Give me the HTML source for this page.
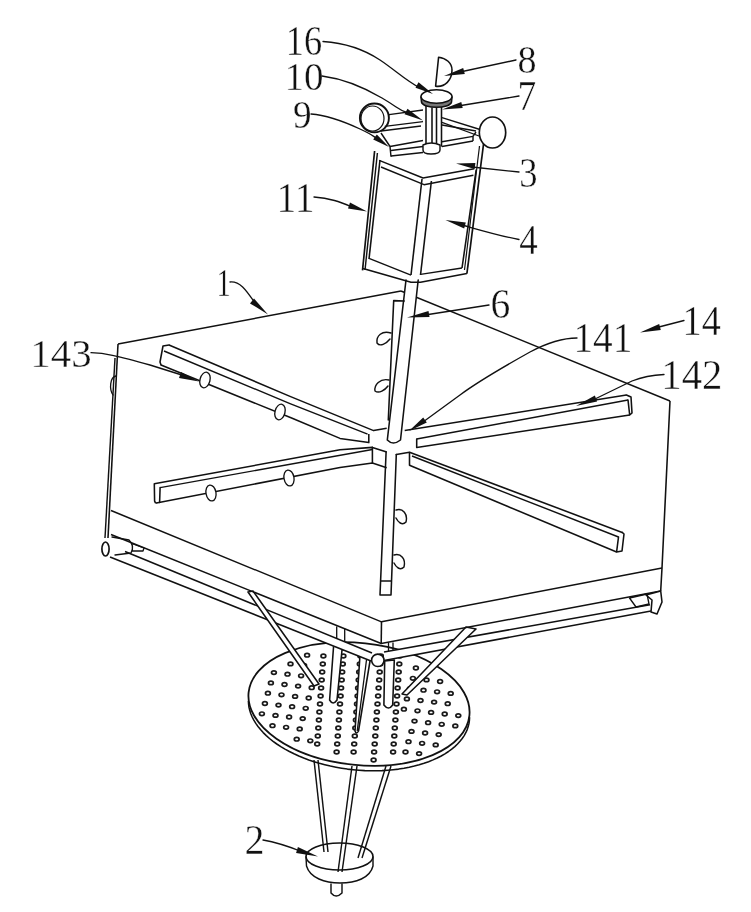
<!DOCTYPE html>
<html><head><meta charset="utf-8"><style>
html,body{margin:0;padding:0;background:#fff;}
svg{display:block;filter:grayscale(100%);}
</style></head><body>
<svg width="751" height="912" viewBox="0 0 751 912">
<rect width="751" height="912" fill="#fff"/>
<polyline points="314,760 324,852" fill="none" stroke="#111" stroke-width="1.44" stroke-linejoin="round"/>
<polyline points="318,760 328,852" fill="none" stroke="#111" stroke-width="1.44" stroke-linejoin="round"/>
<polyline points="352,766 338,872" fill="none" stroke="#111" stroke-width="1.44" stroke-linejoin="round"/>
<polyline points="357,766 342,872" fill="none" stroke="#111" stroke-width="1.44" stroke-linejoin="round"/>
<polyline points="386,766 358,858" fill="none" stroke="#111" stroke-width="1.44" stroke-linejoin="round"/>
<polyline points="391,766 362,858" fill="none" stroke="#111" stroke-width="1.44" stroke-linejoin="round"/>
<ellipse cx="339.5" cy="856.5" rx="33.5" ry="13.5" transform="rotate(0 339.5 856.5)" fill="none" stroke="#111" stroke-width="1.56"/>
<path d="M306,857 L306.5,866 C310,878 325,883 340,883 C356,883 370,878 373,866 L373,857" fill="none" stroke="#111" stroke-width="1.44" stroke-linejoin="round" stroke-linecap="round"/>
<path d="M331,884 L331,893 Q336,899 342,893 L342,884" fill="none" stroke="#111" stroke-width="1.44" stroke-linejoin="round" stroke-linecap="round"/>
<ellipse cx="359" cy="704" rx="111" ry="61" transform="rotate(6 359 704)" fill="#fff" stroke="#111" stroke-width="1.80"/>
<polyline points="248.4,700.9 248.6,704.1 249.0,707.4 249.8,710.6 250.8,713.8 252.2,717.0 253.8,720.2 255.8,723.4 258.0,726.5 260.5,729.6 263.2,732.6 266.3,735.6 269.5,738.5 273.1,741.3 276.8,744.0 280.8,746.6 285.0,749.1 289.4,751.5 294.0,753.8 298.8,756.0 303.7,758.0 308.8,759.9 314.0,761.7 319.4,763.3 324.8,764.7 330.4,766.1 336.0,767.2 341.7,768.2 347.4,769.1 353.2,769.7 359.0,770.2 364.8,770.6 370.6,770.7 376.3,770.7 382.0,770.6 387.6,770.2 393.2,769.7 398.6,769.1 404.0,768.2 409.2,767.2 414.3,766.1 419.2,764.8 424.0,763.3 428.6,761.7 433.0,759.9 437.2,758.0 441.2,756.0 444.9,753.8 448.5,751.5 451.7,749.1 454.8,746.6 457.5,744.0 460.0,741.3 462.2,738.5 464.2,735.6 465.8,732.7 467.2,729.6 468.2,726.6 469.0,723.4 469.4,720.3 469.6,717.1" fill="none" stroke="#111" stroke-width="1.56" stroke-linejoin="round"/>
<ellipse cx="273.9" cy="672.6" rx="2.4" ry="1.8" transform="rotate(0 273.9 672.6)" fill="none" stroke="#1a1a1a" stroke-width="1.74"/>
<ellipse cx="270.9" cy="682.9" rx="2.4" ry="1.8" transform="rotate(0 270.9 682.9)" fill="none" stroke="#1a1a1a" stroke-width="1.74"/>
<ellipse cx="267.9" cy="693.2" rx="2.4" ry="1.8" transform="rotate(0 267.9 693.2)" fill="none" stroke="#1a1a1a" stroke-width="1.74"/>
<ellipse cx="264.9" cy="703.5" rx="2.4" ry="1.8" transform="rotate(0 264.9 703.5)" fill="none" stroke="#1a1a1a" stroke-width="1.74"/>
<ellipse cx="261.9" cy="713.8" rx="2.4" ry="1.8" transform="rotate(0 261.9 713.8)" fill="none" stroke="#1a1a1a" stroke-width="1.74"/>
<ellipse cx="290.5" cy="663.9" rx="2.4" ry="1.8" transform="rotate(0 290.5 663.9)" fill="none" stroke="#1a1a1a" stroke-width="1.74"/>
<ellipse cx="287.5" cy="674.2" rx="2.4" ry="1.8" transform="rotate(0 287.5 674.2)" fill="none" stroke="#1a1a1a" stroke-width="1.74"/>
<ellipse cx="284.5" cy="684.5" rx="2.4" ry="1.8" transform="rotate(0 284.5 684.5)" fill="none" stroke="#1a1a1a" stroke-width="1.74"/>
<ellipse cx="281.5" cy="694.8" rx="2.4" ry="1.8" transform="rotate(0 281.5 694.8)" fill="none" stroke="#1a1a1a" stroke-width="1.74"/>
<ellipse cx="278.5" cy="705.1" rx="2.4" ry="1.8" transform="rotate(0 278.5 705.1)" fill="none" stroke="#1a1a1a" stroke-width="1.74"/>
<ellipse cx="275.5" cy="715.4" rx="2.4" ry="1.8" transform="rotate(0 275.5 715.4)" fill="none" stroke="#1a1a1a" stroke-width="1.74"/>
<ellipse cx="272.5" cy="725.7" rx="2.4" ry="1.8" transform="rotate(0 272.5 725.7)" fill="none" stroke="#1a1a1a" stroke-width="1.74"/>
<ellipse cx="307.1" cy="655.2" rx="2.4" ry="1.8" transform="rotate(0 307.1 655.2)" fill="none" stroke="#1a1a1a" stroke-width="1.74"/>
<ellipse cx="304.1" cy="665.5" rx="2.4" ry="1.8" transform="rotate(0 304.1 665.5)" fill="none" stroke="#1a1a1a" stroke-width="1.74"/>
<ellipse cx="301.1" cy="675.8" rx="2.4" ry="1.8" transform="rotate(0 301.1 675.8)" fill="none" stroke="#1a1a1a" stroke-width="1.74"/>
<ellipse cx="298.1" cy="686.1" rx="2.4" ry="1.8" transform="rotate(0 298.1 686.1)" fill="none" stroke="#1a1a1a" stroke-width="1.74"/>
<ellipse cx="295.1" cy="696.4" rx="2.4" ry="1.8" transform="rotate(0 295.1 696.4)" fill="none" stroke="#1a1a1a" stroke-width="1.74"/>
<ellipse cx="292.1" cy="706.7" rx="2.4" ry="1.8" transform="rotate(0 292.1 706.7)" fill="none" stroke="#1a1a1a" stroke-width="1.74"/>
<ellipse cx="289.1" cy="717.0" rx="2.4" ry="1.8" transform="rotate(0 289.1 717.0)" fill="none" stroke="#1a1a1a" stroke-width="1.74"/>
<ellipse cx="286.1" cy="727.3" rx="2.4" ry="1.8" transform="rotate(0 286.1 727.3)" fill="none" stroke="#1a1a1a" stroke-width="1.74"/>
<ellipse cx="311.7" cy="687.7" rx="2.4" ry="1.8" transform="rotate(0 311.7 687.7)" fill="none" stroke="#1a1a1a" stroke-width="1.74"/>
<ellipse cx="308.7" cy="698.0" rx="2.4" ry="1.8" transform="rotate(0 308.7 698.0)" fill="none" stroke="#1a1a1a" stroke-width="1.74"/>
<ellipse cx="305.7" cy="708.3" rx="2.4" ry="1.8" transform="rotate(0 305.7 708.3)" fill="none" stroke="#1a1a1a" stroke-width="1.74"/>
<ellipse cx="302.7" cy="718.6" rx="2.4" ry="1.8" transform="rotate(0 302.7 718.6)" fill="none" stroke="#1a1a1a" stroke-width="1.74"/>
<ellipse cx="299.7" cy="728.9" rx="2.4" ry="1.8" transform="rotate(0 299.7 728.9)" fill="none" stroke="#1a1a1a" stroke-width="1.74"/>
<ellipse cx="296.7" cy="739.2" rx="2.4" ry="1.8" transform="rotate(0 296.7 739.2)" fill="none" stroke="#1a1a1a" stroke-width="1.74"/>
<ellipse cx="310.3" cy="740.8" rx="2.4" ry="1.8" transform="rotate(0 310.3 740.8)" fill="none" stroke="#1a1a1a" stroke-width="1.74"/>
<ellipse cx="415.9" cy="668.0" rx="2.4" ry="1.8" transform="rotate(0 415.9 668.0)" fill="none" stroke="#1a1a1a" stroke-width="1.74"/>
<ellipse cx="412.9" cy="678.3" rx="2.4" ry="1.8" transform="rotate(0 412.9 678.3)" fill="none" stroke="#1a1a1a" stroke-width="1.74"/>
<ellipse cx="409.9" cy="688.6" rx="2.4" ry="1.8" transform="rotate(0 409.9 688.6)" fill="none" stroke="#1a1a1a" stroke-width="1.74"/>
<ellipse cx="406.9" cy="698.9" rx="2.4" ry="1.8" transform="rotate(0 406.9 698.9)" fill="none" stroke="#1a1a1a" stroke-width="1.74"/>
<ellipse cx="403.9" cy="709.2" rx="2.4" ry="1.8" transform="rotate(0 403.9 709.2)" fill="none" stroke="#1a1a1a" stroke-width="1.74"/>
<ellipse cx="429.5" cy="669.6" rx="2.4" ry="1.8" transform="rotate(0 429.5 669.6)" fill="none" stroke="#1a1a1a" stroke-width="1.74"/>
<ellipse cx="426.5" cy="679.9" rx="2.4" ry="1.8" transform="rotate(0 426.5 679.9)" fill="none" stroke="#1a1a1a" stroke-width="1.74"/>
<ellipse cx="423.5" cy="690.2" rx="2.4" ry="1.8" transform="rotate(0 423.5 690.2)" fill="none" stroke="#1a1a1a" stroke-width="1.74"/>
<ellipse cx="420.5" cy="700.5" rx="2.4" ry="1.8" transform="rotate(0 420.5 700.5)" fill="none" stroke="#1a1a1a" stroke-width="1.74"/>
<ellipse cx="417.5" cy="710.8" rx="2.4" ry="1.8" transform="rotate(0 417.5 710.8)" fill="none" stroke="#1a1a1a" stroke-width="1.74"/>
<ellipse cx="414.5" cy="721.1" rx="2.4" ry="1.8" transform="rotate(0 414.5 721.1)" fill="none" stroke="#1a1a1a" stroke-width="1.74"/>
<ellipse cx="411.5" cy="731.4" rx="2.4" ry="1.8" transform="rotate(0 411.5 731.4)" fill="none" stroke="#1a1a1a" stroke-width="1.74"/>
<ellipse cx="408.5" cy="741.7" rx="2.4" ry="1.8" transform="rotate(0 408.5 741.7)" fill="none" stroke="#1a1a1a" stroke-width="1.74"/>
<ellipse cx="405.5" cy="752.0" rx="2.4" ry="1.8" transform="rotate(0 405.5 752.0)" fill="none" stroke="#1a1a1a" stroke-width="1.74"/>
<ellipse cx="440.1" cy="681.5" rx="2.4" ry="1.8" transform="rotate(0 440.1 681.5)" fill="none" stroke="#1a1a1a" stroke-width="1.74"/>
<ellipse cx="437.1" cy="691.8" rx="2.4" ry="1.8" transform="rotate(0 437.1 691.8)" fill="none" stroke="#1a1a1a" stroke-width="1.74"/>
<ellipse cx="434.1" cy="702.1" rx="2.4" ry="1.8" transform="rotate(0 434.1 702.1)" fill="none" stroke="#1a1a1a" stroke-width="1.74"/>
<ellipse cx="431.1" cy="712.4" rx="2.4" ry="1.8" transform="rotate(0 431.1 712.4)" fill="none" stroke="#1a1a1a" stroke-width="1.74"/>
<ellipse cx="428.1" cy="722.7" rx="2.4" ry="1.8" transform="rotate(0 428.1 722.7)" fill="none" stroke="#1a1a1a" stroke-width="1.74"/>
<ellipse cx="425.1" cy="733.0" rx="2.4" ry="1.8" transform="rotate(0 425.1 733.0)" fill="none" stroke="#1a1a1a" stroke-width="1.74"/>
<ellipse cx="422.1" cy="743.3" rx="2.4" ry="1.8" transform="rotate(0 422.1 743.3)" fill="none" stroke="#1a1a1a" stroke-width="1.74"/>
<ellipse cx="419.1" cy="753.6" rx="2.4" ry="1.8" transform="rotate(0 419.1 753.6)" fill="none" stroke="#1a1a1a" stroke-width="1.74"/>
<ellipse cx="450.7" cy="693.4" rx="2.4" ry="1.8" transform="rotate(0 450.7 693.4)" fill="none" stroke="#1a1a1a" stroke-width="1.74"/>
<ellipse cx="447.7" cy="703.7" rx="2.4" ry="1.8" transform="rotate(0 447.7 703.7)" fill="none" stroke="#1a1a1a" stroke-width="1.74"/>
<ellipse cx="444.7" cy="714.0" rx="2.4" ry="1.8" transform="rotate(0 444.7 714.0)" fill="none" stroke="#1a1a1a" stroke-width="1.74"/>
<ellipse cx="441.7" cy="724.3" rx="2.4" ry="1.8" transform="rotate(0 441.7 724.3)" fill="none" stroke="#1a1a1a" stroke-width="1.74"/>
<ellipse cx="438.7" cy="734.6" rx="2.4" ry="1.8" transform="rotate(0 438.7 734.6)" fill="none" stroke="#1a1a1a" stroke-width="1.74"/>
<ellipse cx="435.7" cy="744.9" rx="2.4" ry="1.8" transform="rotate(0 435.7 744.9)" fill="none" stroke="#1a1a1a" stroke-width="1.74"/>
<ellipse cx="458.3" cy="715.6" rx="2.4" ry="1.8" transform="rotate(0 458.3 715.6)" fill="none" stroke="#1a1a1a" stroke-width="1.74"/>
<ellipse cx="455.3" cy="725.9" rx="2.4" ry="1.8" transform="rotate(0 455.3 725.9)" fill="none" stroke="#1a1a1a" stroke-width="1.74"/>
<ellipse cx="323.4" cy="656" rx="2.4" ry="1.8" transform="rotate(0 323.4 656)" fill="none" stroke="#1a1a1a" stroke-width="1.74"/>
<ellipse cx="322.8" cy="664" rx="2.4" ry="1.8" transform="rotate(0 322.8 664)" fill="none" stroke="#1a1a1a" stroke-width="1.74"/>
<ellipse cx="322.2" cy="672" rx="2.4" ry="1.8" transform="rotate(0 322.2 672)" fill="none" stroke="#1a1a1a" stroke-width="1.74"/>
<ellipse cx="321.7" cy="680" rx="2.4" ry="1.8" transform="rotate(0 321.7 680)" fill="none" stroke="#1a1a1a" stroke-width="1.74"/>
<ellipse cx="321.1" cy="688" rx="2.4" ry="1.8" transform="rotate(0 321.1 688)" fill="none" stroke="#1a1a1a" stroke-width="1.74"/>
<ellipse cx="320.6" cy="696" rx="2.4" ry="1.8" transform="rotate(0 320.6 696)" fill="none" stroke="#1a1a1a" stroke-width="1.74"/>
<ellipse cx="320.0" cy="704" rx="2.4" ry="1.8" transform="rotate(0 320.0 704)" fill="none" stroke="#1a1a1a" stroke-width="1.74"/>
<ellipse cx="319.4" cy="712" rx="2.4" ry="1.8" transform="rotate(0 319.4 712)" fill="none" stroke="#1a1a1a" stroke-width="1.74"/>
<ellipse cx="318.9" cy="720" rx="2.4" ry="1.8" transform="rotate(0 318.9 720)" fill="none" stroke="#1a1a1a" stroke-width="1.74"/>
<ellipse cx="318.3" cy="728" rx="2.4" ry="1.8" transform="rotate(0 318.3 728)" fill="none" stroke="#1a1a1a" stroke-width="1.74"/>
<ellipse cx="317.8" cy="736" rx="2.4" ry="1.8" transform="rotate(0 317.8 736)" fill="none" stroke="#1a1a1a" stroke-width="1.74"/>
<ellipse cx="317.2" cy="744" rx="2.4" ry="1.8" transform="rotate(0 317.2 744)" fill="none" stroke="#1a1a1a" stroke-width="1.74"/>
<ellipse cx="343.9" cy="648" rx="2.4" ry="1.8" transform="rotate(0 343.9 648)" fill="none" stroke="#1a1a1a" stroke-width="1.74"/>
<ellipse cx="343.4" cy="656" rx="2.4" ry="1.8" transform="rotate(0 343.4 656)" fill="none" stroke="#1a1a1a" stroke-width="1.74"/>
<ellipse cx="342.8" cy="664" rx="2.4" ry="1.8" transform="rotate(0 342.8 664)" fill="none" stroke="#1a1a1a" stroke-width="1.74"/>
<ellipse cx="342.2" cy="672" rx="2.4" ry="1.8" transform="rotate(0 342.2 672)" fill="none" stroke="#1a1a1a" stroke-width="1.74"/>
<ellipse cx="341.7" cy="680" rx="2.4" ry="1.8" transform="rotate(0 341.7 680)" fill="none" stroke="#1a1a1a" stroke-width="1.74"/>
<ellipse cx="341.1" cy="688" rx="2.4" ry="1.8" transform="rotate(0 341.1 688)" fill="none" stroke="#1a1a1a" stroke-width="1.74"/>
<ellipse cx="340.6" cy="696" rx="2.4" ry="1.8" transform="rotate(0 340.6 696)" fill="none" stroke="#1a1a1a" stroke-width="1.74"/>
<ellipse cx="340.0" cy="704" rx="2.4" ry="1.8" transform="rotate(0 340.0 704)" fill="none" stroke="#1a1a1a" stroke-width="1.74"/>
<ellipse cx="339.4" cy="712" rx="2.4" ry="1.8" transform="rotate(0 339.4 712)" fill="none" stroke="#1a1a1a" stroke-width="1.74"/>
<ellipse cx="338.9" cy="720" rx="2.4" ry="1.8" transform="rotate(0 338.9 720)" fill="none" stroke="#1a1a1a" stroke-width="1.74"/>
<ellipse cx="338.3" cy="728" rx="2.4" ry="1.8" transform="rotate(0 338.3 728)" fill="none" stroke="#1a1a1a" stroke-width="1.74"/>
<ellipse cx="337.8" cy="736" rx="2.4" ry="1.8" transform="rotate(0 337.8 736)" fill="none" stroke="#1a1a1a" stroke-width="1.74"/>
<ellipse cx="337.2" cy="744" rx="2.4" ry="1.8" transform="rotate(0 337.2 744)" fill="none" stroke="#1a1a1a" stroke-width="1.74"/>
<ellipse cx="336.6" cy="752" rx="2.4" ry="1.8" transform="rotate(0 336.6 752)" fill="none" stroke="#1a1a1a" stroke-width="1.74"/>
<ellipse cx="360.4" cy="656" rx="2.4" ry="1.8" transform="rotate(0 360.4 656)" fill="none" stroke="#1a1a1a" stroke-width="1.74"/>
<ellipse cx="359.8" cy="664" rx="2.4" ry="1.8" transform="rotate(0 359.8 664)" fill="none" stroke="#1a1a1a" stroke-width="1.74"/>
<ellipse cx="359.2" cy="672" rx="2.4" ry="1.8" transform="rotate(0 359.2 672)" fill="none" stroke="#1a1a1a" stroke-width="1.74"/>
<ellipse cx="358.7" cy="680" rx="2.4" ry="1.8" transform="rotate(0 358.7 680)" fill="none" stroke="#1a1a1a" stroke-width="1.74"/>
<ellipse cx="358.1" cy="688" rx="2.4" ry="1.8" transform="rotate(0 358.1 688)" fill="none" stroke="#1a1a1a" stroke-width="1.74"/>
<ellipse cx="357.6" cy="696" rx="2.4" ry="1.8" transform="rotate(0 357.6 696)" fill="none" stroke="#1a1a1a" stroke-width="1.74"/>
<ellipse cx="357.0" cy="704" rx="2.4" ry="1.8" transform="rotate(0 357.0 704)" fill="none" stroke="#1a1a1a" stroke-width="1.74"/>
<ellipse cx="356.4" cy="712" rx="2.4" ry="1.8" transform="rotate(0 356.4 712)" fill="none" stroke="#1a1a1a" stroke-width="1.74"/>
<ellipse cx="355.9" cy="720" rx="2.4" ry="1.8" transform="rotate(0 355.9 720)" fill="none" stroke="#1a1a1a" stroke-width="1.74"/>
<ellipse cx="355.3" cy="728" rx="2.4" ry="1.8" transform="rotate(0 355.3 728)" fill="none" stroke="#1a1a1a" stroke-width="1.74"/>
<ellipse cx="354.8" cy="736" rx="2.4" ry="1.8" transform="rotate(0 354.8 736)" fill="none" stroke="#1a1a1a" stroke-width="1.74"/>
<ellipse cx="354.2" cy="744" rx="2.4" ry="1.8" transform="rotate(0 354.2 744)" fill="none" stroke="#1a1a1a" stroke-width="1.74"/>
<ellipse cx="353.6" cy="752" rx="2.4" ry="1.8" transform="rotate(0 353.6 752)" fill="none" stroke="#1a1a1a" stroke-width="1.74"/>
<ellipse cx="380.9" cy="656" rx="2.4" ry="1.8" transform="rotate(0 380.9 656)" fill="none" stroke="#1a1a1a" stroke-width="1.74"/>
<ellipse cx="380.3" cy="664" rx="2.4" ry="1.8" transform="rotate(0 380.3 664)" fill="none" stroke="#1a1a1a" stroke-width="1.74"/>
<ellipse cx="379.7" cy="672" rx="2.4" ry="1.8" transform="rotate(0 379.7 672)" fill="none" stroke="#1a1a1a" stroke-width="1.74"/>
<ellipse cx="379.2" cy="680" rx="2.4" ry="1.8" transform="rotate(0 379.2 680)" fill="none" stroke="#1a1a1a" stroke-width="1.74"/>
<ellipse cx="378.6" cy="688" rx="2.4" ry="1.8" transform="rotate(0 378.6 688)" fill="none" stroke="#1a1a1a" stroke-width="1.74"/>
<ellipse cx="378.1" cy="696" rx="2.4" ry="1.8" transform="rotate(0 378.1 696)" fill="none" stroke="#1a1a1a" stroke-width="1.74"/>
<ellipse cx="377.5" cy="704" rx="2.4" ry="1.8" transform="rotate(0 377.5 704)" fill="none" stroke="#1a1a1a" stroke-width="1.74"/>
<ellipse cx="376.9" cy="712" rx="2.4" ry="1.8" transform="rotate(0 376.9 712)" fill="none" stroke="#1a1a1a" stroke-width="1.74"/>
<ellipse cx="376.4" cy="720" rx="2.4" ry="1.8" transform="rotate(0 376.4 720)" fill="none" stroke="#1a1a1a" stroke-width="1.74"/>
<ellipse cx="375.8" cy="728" rx="2.4" ry="1.8" transform="rotate(0 375.8 728)" fill="none" stroke="#1a1a1a" stroke-width="1.74"/>
<ellipse cx="375.3" cy="736" rx="2.4" ry="1.8" transform="rotate(0 375.3 736)" fill="none" stroke="#1a1a1a" stroke-width="1.74"/>
<ellipse cx="374.7" cy="744" rx="2.4" ry="1.8" transform="rotate(0 374.7 744)" fill="none" stroke="#1a1a1a" stroke-width="1.74"/>
<ellipse cx="374.1" cy="752" rx="2.4" ry="1.8" transform="rotate(0 374.1 752)" fill="none" stroke="#1a1a1a" stroke-width="1.74"/>
<ellipse cx="373.6" cy="760" rx="2.4" ry="1.8" transform="rotate(0 373.6 760)" fill="none" stroke="#1a1a1a" stroke-width="1.74"/>
<ellipse cx="399.9" cy="656" rx="2.4" ry="1.8" transform="rotate(0 399.9 656)" fill="none" stroke="#1a1a1a" stroke-width="1.74"/>
<ellipse cx="399.3" cy="664" rx="2.4" ry="1.8" transform="rotate(0 399.3 664)" fill="none" stroke="#1a1a1a" stroke-width="1.74"/>
<ellipse cx="398.7" cy="672" rx="2.4" ry="1.8" transform="rotate(0 398.7 672)" fill="none" stroke="#1a1a1a" stroke-width="1.74"/>
<ellipse cx="398.2" cy="680" rx="2.4" ry="1.8" transform="rotate(0 398.2 680)" fill="none" stroke="#1a1a1a" stroke-width="1.74"/>
<ellipse cx="397.6" cy="688" rx="2.4" ry="1.8" transform="rotate(0 397.6 688)" fill="none" stroke="#1a1a1a" stroke-width="1.74"/>
<ellipse cx="397.1" cy="696" rx="2.4" ry="1.8" transform="rotate(0 397.1 696)" fill="none" stroke="#1a1a1a" stroke-width="1.74"/>
<ellipse cx="396.5" cy="704" rx="2.4" ry="1.8" transform="rotate(0 396.5 704)" fill="none" stroke="#1a1a1a" stroke-width="1.74"/>
<ellipse cx="395.9" cy="712" rx="2.4" ry="1.8" transform="rotate(0 395.9 712)" fill="none" stroke="#1a1a1a" stroke-width="1.74"/>
<ellipse cx="395.4" cy="720" rx="2.4" ry="1.8" transform="rotate(0 395.4 720)" fill="none" stroke="#1a1a1a" stroke-width="1.74"/>
<ellipse cx="394.8" cy="728" rx="2.4" ry="1.8" transform="rotate(0 394.8 728)" fill="none" stroke="#1a1a1a" stroke-width="1.74"/>
<ellipse cx="394.3" cy="736" rx="2.4" ry="1.8" transform="rotate(0 394.3 736)" fill="none" stroke="#1a1a1a" stroke-width="1.74"/>
<ellipse cx="393.7" cy="744" rx="2.4" ry="1.8" transform="rotate(0 393.7 744)" fill="none" stroke="#1a1a1a" stroke-width="1.74"/>
<ellipse cx="393.1" cy="752" rx="2.4" ry="1.8" transform="rotate(0 393.1 752)" fill="none" stroke="#1a1a1a" stroke-width="1.74"/>
<path d="M333.6,646 L329.6,700 Q333,706 337,700 L342.3,647 Z" fill="#fff" stroke="#111" stroke-width="1.56" stroke-linejoin="round" stroke-linecap="round"/>
<path d="M336.7,627 L336.7,640 M344.7,629 L344.7,641" fill="none" stroke="#111" stroke-width="1.32" stroke-linejoin="round" stroke-linecap="round"/>
<path d="M384.7,661 L383.9,705 Q388.5,711 392.7,705 L394.3,660 Z" fill="#fff" stroke="#111" stroke-width="1.56" stroke-linejoin="round" stroke-linecap="round"/>
<path d="M388.5,643 L388.5,652 M393,643 L393,651" fill="none" stroke="#111" stroke-width="1.32" stroke-linejoin="round" stroke-linecap="round"/>
<path d="M360,655 L355,731 Q356.5,735 358.5,731 L370.5,658 Z" fill="#fff" stroke="#111" stroke-width="1.56" stroke-linejoin="round" stroke-linecap="round"/>
<polyline points="366.5,660 357.2,731" fill="none" stroke="#111" stroke-width="1.32" stroke-linejoin="round"/>
<polygon points="125,551.5 372,653 371,661 110,557" fill="#fff"/>
<polygon points="384,652 650,604.7 651,611 384,660.5" fill="#fff"/>
<polyline points="125,551.5 372,653" fill="none" stroke="#111" stroke-width="1.56" stroke-linejoin="round"/>
<polyline points="110,557 371,661" fill="none" stroke="#111" stroke-width="1.56" stroke-linejoin="round"/>
<polyline points="384,652 650,604.7" fill="none" stroke="#111" stroke-width="1.56" stroke-linejoin="round"/>
<polyline points="384,660.5 651,611" fill="none" stroke="#111" stroke-width="1.56" stroke-linejoin="round"/>
<polygon points="248,592 253,591 319,684 314,686" fill="#fff" stroke="#111" stroke-width="1.56" stroke-linejoin="round"/>
<polygon points="466,627 476,629 407,695 402,694" fill="#fff" stroke="#111" stroke-width="1.56" stroke-linejoin="round"/>
<polyline points="118,344 401,291" fill="none" stroke="#111" stroke-width="1.44" stroke-linejoin="round"/>
<polyline points="401,291 670,401" fill="none" stroke="#111" stroke-width="1.44" stroke-linejoin="round"/>
<polyline points="670,401 662,568 660.7,591" fill="none" stroke="#111" stroke-width="1.56" stroke-linejoin="round"/>
<polyline points="111,510.5 381.5,621.8 662,568" fill="none" stroke="#111" stroke-width="1.44" stroke-linejoin="round"/>
<polyline points="381.5,621.8 381.2,643.5" fill="none" stroke="#111" stroke-width="1.56" stroke-linejoin="round"/>
<polyline points="111,534.5 381.2,643.5 660.7,591" fill="none" stroke="#111" stroke-width="1.56" stroke-linejoin="round"/>
<polyline points="118,344 108,538" fill="none" stroke="#111" stroke-width="1.56" stroke-linejoin="round"/>
<polyline points="115,358 105,538" fill="none" stroke="#111" stroke-width="1.44" stroke-linejoin="round"/>
<ellipse cx="105.5" cy="549" rx="3.6" ry="7" transform="rotate(0 105.5 549)" fill="#fff" stroke="#111" stroke-width="1.68"/>
<ellipse cx="377.8" cy="660.3" rx="6.2" ry="6.2" transform="rotate(0 377.8 660.3)" fill="#fff" stroke="#111" stroke-width="1.56"/>
<path d="M646,595 L660.7,591 L662,602 L657,614 L651,612 L652,600 Z" fill="#fff" stroke="#111" stroke-width="1.56" stroke-linejoin="round" stroke-linecap="round"/>
<path d="M112,537 L129,540 Q135,546 131,553 L115,555 M133,544 L144,548 L143,551 L132,551" fill="none" stroke="#111" stroke-width="1.32" stroke-linejoin="round" stroke-linecap="round"/>
<path d="M629.5,598 L647,594 L649,604 L636,607 Z" fill="none" stroke="#111" stroke-width="1.32" stroke-linejoin="round" stroke-linecap="round"/>
<path d="M406,280 L387.3,440 Q393,446 400.5,440 L418.2,280" fill="#fff" stroke="#111" stroke-width="1.56" stroke-linejoin="round" stroke-linecap="round"/>
<path d="M404.2,301 L393.7,300.6 L388.3,420" fill="none" stroke="#111" stroke-width="1.56" stroke-linejoin="round" stroke-linecap="round"/>
<path d="M391,333 C382,330 376,336 377,343 C380,347 386,344 390,339" fill="none" stroke="#111" stroke-width="1.44" stroke-linejoin="round" stroke-linecap="round"/>
<path d="M389,380 C380,378 374,385 375,391 C379,394 385,390 388,386" fill="none" stroke="#111" stroke-width="1.44" stroke-linejoin="round" stroke-linecap="round"/>
<path d="M386.1,452 L380,595 M396.3,454.5 L391,595 M380,595 L391,595 M380.5,581 L391.5,581" fill="none" stroke="#111" stroke-width="1.56" stroke-linejoin="round" stroke-linecap="round"/>
<path d="M396,510 C403,508 408,514 406,522 C402,526 398,522 396,518" fill="none" stroke="#111" stroke-width="1.44" stroke-linejoin="round" stroke-linecap="round"/>
<path d="M394,555 C401,553 406,559 404,567 C400,571 396,567 394,563" fill="none" stroke="#111" stroke-width="1.44" stroke-linejoin="round" stroke-linecap="round"/>
<polyline points="169,345 290,396.4 373.6,430.6 386.7,428.2" fill="none" stroke="#111" stroke-width="1.56" stroke-linejoin="round"/>
<polyline points="164,351 290,403.6 367.6,434.2" fill="none" stroke="#111" stroke-width="1.44" stroke-linejoin="round"/>
<polyline points="161,365 291.6,418 340,438.4 368.8,442.6 368.8,434" fill="none" stroke="#111" stroke-width="1.56" stroke-linejoin="round"/>
<path d="M169,345 L163,346 L160,362 L161,365" fill="none" stroke="#111" stroke-width="1.56" stroke-linejoin="round" stroke-linecap="round"/>
<polyline points="154.3,483.8 340,449.8 372.4,447.4 386.7,452" fill="none" stroke="#111" stroke-width="1.56" stroke-linejoin="round"/>
<polyline points="160.1,487.6 372.4,449.5" fill="none" stroke="#111" stroke-width="1.44" stroke-linejoin="round"/>
<polyline points="156.4,503 340,467.5 372.4,463 386.7,467.7" fill="none" stroke="#111" stroke-width="1.56" stroke-linejoin="round"/>
<path d="M372.4,447.4 L372.4,463 M154.3,483.8 L154.6,501 Q155,503 156.4,503 M160.1,487.6 L159.6,502.5" fill="none" stroke="#111" stroke-width="1.56" stroke-linejoin="round" stroke-linecap="round"/>
<path d="M396.3,454.5 L409.5,452.2 L409.5,465.3" fill="none" stroke="#111" stroke-width="1.56" stroke-linejoin="round" stroke-linecap="round"/>
<polyline points="404.7,430.6 626.4,395" fill="none" stroke="#111" stroke-width="1.56" stroke-linejoin="round"/>
<polyline points="416.7,439 628,400" fill="none" stroke="#111" stroke-width="1.44" stroke-linejoin="round"/>
<polyline points="416.7,447.4 629.7,415" fill="none" stroke="#111" stroke-width="1.56" stroke-linejoin="round"/>
<path d="M416.7,439 L416.7,447.4 M626.4,395 L631,397 L632,413 L629.7,415 M628,400 L629.7,415" fill="none" stroke="#111" stroke-width="1.56" stroke-linejoin="round" stroke-linecap="round"/>
<polyline points="409.5,452.2 622.2,532.4" fill="none" stroke="#111" stroke-width="1.56" stroke-linejoin="round"/>
<polyline points="412,456 618.5,537" fill="none" stroke="#111" stroke-width="1.44" stroke-linejoin="round"/>
<polyline points="409.5,465.3 616.6,552" fill="none" stroke="#111" stroke-width="1.56" stroke-linejoin="round"/>
<path d="M622.2,532.4 L624,534 L622,551 L616.6,552 M618.5,537 L616.6,552" fill="none" stroke="#111" stroke-width="1.56" stroke-linejoin="round" stroke-linecap="round"/>
<ellipse cx="205" cy="380" rx="5" ry="8" transform="rotate(15 205 380)" fill="#fff" stroke="#111" stroke-width="1.32"/>
<ellipse cx="280" cy="412" rx="5" ry="8" transform="rotate(15 280 412)" fill="#fff" stroke="#111" stroke-width="1.32"/>
<ellipse cx="211" cy="493" rx="5" ry="8" transform="rotate(-10 211 493)" fill="#fff" stroke="#111" stroke-width="1.32"/>
<ellipse cx="289" cy="478" rx="5" ry="8" transform="rotate(-10 289 478)" fill="#fff" stroke="#111" stroke-width="1.32"/>
<path d="M116,376 C110,377 109,389 113,395" fill="none" stroke="#111" stroke-width="1.32" stroke-linejoin="round" stroke-linecap="round"/>
<polyline points="379.2,160.4 423,178 474.3,168.8" fill="none" stroke="#111" stroke-width="1.56" stroke-linejoin="round"/>
<polyline points="381,167 424,184.7 473.4,175.3" fill="none" stroke="#111" stroke-width="1.44" stroke-linejoin="round"/>
<polyline points="374.6,151 362.5,270.4" fill="none" stroke="#111" stroke-width="1.68" stroke-linejoin="round"/>
<polyline points="377.4,153 365,270" fill="none" stroke="#111" stroke-width="1.44" stroke-linejoin="round"/>
<polyline points="380,160 369,259" fill="none" stroke="#111" stroke-width="1.56" stroke-linejoin="round"/>
<polyline points="422,179 411,275" fill="none" stroke="#111" stroke-width="1.56" stroke-linejoin="round"/>
<polyline points="431.4,181 420.5,275" fill="none" stroke="#111" stroke-width="1.56" stroke-linejoin="round"/>
<polyline points="476.2,169.7 462,268" fill="none" stroke="#111" stroke-width="1.56" stroke-linejoin="round"/>
<polyline points="483.6,143.6 466.9,273.6" fill="none" stroke="#111" stroke-width="1.68" stroke-linejoin="round"/>
<polyline points="479.5,146 464.5,270" fill="none" stroke="#111" stroke-width="1.20" stroke-linejoin="round"/>
<polyline points="369,258.4 411,275.2" fill="none" stroke="#111" stroke-width="1.44" stroke-linejoin="round"/>
<polyline points="420.5,274.4 462,268" fill="none" stroke="#111" stroke-width="1.44" stroke-linejoin="round"/>
<polyline points="363,268.5 411,282.3 420.5,282.3 466.9,273.6" fill="none" stroke="#111" stroke-width="1.56" stroke-linejoin="round"/>
<polyline points="391,156 423,152.5" fill="none" stroke="#111" stroke-width="1.32" stroke-linejoin="round"/>
<polyline points="381,131 421,126" fill="none" stroke="#111" stroke-width="1.44" stroke-linejoin="round"/>
<polyline points="442,125 476,131" fill="none" stroke="#111" stroke-width="1.44" stroke-linejoin="round"/>
<polyline points="390,146.5 423,140.5" fill="none" stroke="#111" stroke-width="1.44" stroke-linejoin="round"/>
<polyline points="391,150.5 423,146.5" fill="none" stroke="#111" stroke-width="1.44" stroke-linejoin="round"/>
<polyline points="442,141.7 473,136.4" fill="none" stroke="#111" stroke-width="1.44" stroke-linejoin="round"/>
<polyline points="442,146.5 473,141" fill="none" stroke="#111" stroke-width="1.44" stroke-linejoin="round"/>
<polyline points="381,133 390,146.5 391,156.8" fill="none" stroke="#111" stroke-width="1.44" stroke-linejoin="round"/>
<polyline points="476,132 473,136.4 473,141" fill="none" stroke="#111" stroke-width="1.44" stroke-linejoin="round"/>
<ellipse cx="374.4" cy="117.9" rx="14.5" ry="14.4" transform="rotate(0 374.4 117.9)" fill="#fff" stroke="#111" stroke-width="1.92"/>
<ellipse cx="372.5" cy="118.5" rx="11.5" ry="12.5" transform="rotate(0 372.5 118.5)" fill="none" stroke="#111" stroke-width="1.20"/>
<ellipse cx="492.5" cy="132.5" rx="13.2" ry="15.5" transform="rotate(0 492.5 132.5)" fill="#fff" stroke="#111" stroke-width="1.68"/>
<polyline points="389,114.7 423,110" fill="none" stroke="#111" stroke-width="1.32" stroke-linejoin="round"/>
<polyline points="384.8,126.4 423,121.6" fill="none" stroke="#111" stroke-width="1.32" stroke-linejoin="round"/>
<polyline points="442,117.6 480,129.5" fill="none" stroke="#111" stroke-width="1.32" stroke-linejoin="round"/>
<polyline points="442,122.4 479,136" fill="none" stroke="#111" stroke-width="1.32" stroke-linejoin="round"/>
<path d="M426,106 L426,146 M441.5,106 L441.5,146 M432,108 L432,145 M436.5,108 L436.5,145" fill="none" stroke="#111" stroke-width="1.56" stroke-linejoin="round" stroke-linecap="round"/>
<path d="M423,145 L423,150 Q423,154 431,154 Q440,154 440,150 L440,145 Q431,141 423,145" fill="#fff" stroke="#111" stroke-width="1.44" stroke-linejoin="round" stroke-linecap="round"/>
<path d="M421,97 L421.5,102 C423,109 450,109 451.5,102 L452,97 Z" fill="#777" stroke="#111" stroke-width="1.56" stroke-linejoin="round" stroke-linecap="round"/>
<ellipse cx="436.5" cy="96.5" rx="15.5" ry="6.8" transform="rotate(0 436.5 96.5)" fill="#fff" stroke="#111" stroke-width="1.56"/>
<path d="M438.6,57.2 L435.6,86.2 C445,87.5 452,80 452,70 C452,63 446,58 438.6,57.2 Z" fill="#fff" stroke="#111" stroke-width="1.56" stroke-linejoin="round" stroke-linecap="round"/>
<text transform="translate(285.73 55.18) scale(0.3636 0.4118)" font-family="Liberation Serif" font-size="100" fill="#111" stroke="#fff" stroke-width="1.0">16</text>
<text transform="translate(284.48 90.21) scale(0.3908 0.3971)" font-family="Liberation Serif" font-size="100" fill="#111" stroke="#fff" stroke-width="1.0">10</text>
<text transform="translate(292.88 127.59) scale(0.3721 0.4091)" font-family="Liberation Serif" font-size="100" fill="#111" stroke="#fff" stroke-width="1.0">9</text>
<text transform="translate(517.48 73.19) scale(0.3810 0.4030)" font-family="Liberation Serif" font-size="100" fill="#111" stroke="#fff" stroke-width="1.0">8</text>
<text transform="translate(517.38 110.00) scale(0.3750 0.4154)" font-family="Liberation Serif" font-size="100" fill="#111" stroke="#fff" stroke-width="1.0">7</text>
<text transform="translate(519.17 186.58) scale(0.3659 0.4242)" font-family="Liberation Serif" font-size="100" fill="#111" stroke="#fff" stroke-width="1.0">3</text>
<text transform="translate(276.44 212.00) scale(0.3951 0.4242)" font-family="Liberation Serif" font-size="100" fill="#111" stroke="#fff" stroke-width="1.0">11</text>
<text transform="translate(519.26 254.00) scale(0.3696 0.4308)" font-family="Liberation Serif" font-size="100" fill="#111" stroke="#fff" stroke-width="1.0">4</text>
<text transform="translate(216.43 296.00) scale(0.2857 0.3939)" font-family="Liberation Serif" font-size="100" fill="#111" stroke="#fff" stroke-width="1.0">1</text>
<text transform="translate(490.42 318.16) scale(0.3953 0.4179)" font-family="Liberation Serif" font-size="100" fill="#111" stroke="#fff" stroke-width="1.0">6</text>
<text transform="translate(573.47 352.00) scale(0.3926 0.4242)" font-family="Liberation Serif" font-size="100" fill="#111" stroke="#fff" stroke-width="1.0">141</text>
<text transform="translate(682.56 335.00) scale(0.3820 0.4242)" font-family="Liberation Serif" font-size="100" fill="#111" stroke="#fff" stroke-width="1.0">14</text>
<text transform="translate(661.33 389.00) scale(0.4074 0.4242)" font-family="Liberation Serif" font-size="100" fill="#111" stroke="#fff" stroke-width="1.0">142</text>
<text transform="translate(30.32 366.60) scale(0.4088 0.4030)" font-family="Liberation Serif" font-size="100" fill="#111" stroke="#fff" stroke-width="1.0">143</text>
<text transform="translate(244.40 854.00) scale(0.4000 0.4154)" font-family="Liberation Serif" font-size="100" fill="#111" stroke="#fff" stroke-width="1.0">2</text>
<path d="M323,41.5 C345,43 365,50 380,60 S405,80 420,88" fill="none" stroke="#111" stroke-width="1.32" stroke-linejoin="round" stroke-linecap="round"/>
<polygon points="433,94 415.5,87.7 418.5,82.3" fill="#111"/>
<path d="M322,76 C345,79 365,88 382,98 S398,110 408,113" fill="none" stroke="#111" stroke-width="1.32" stroke-linejoin="round" stroke-linecap="round"/>
<polygon points="423,120.5 404.5,114.2 407.5,108.8" fill="#111"/>
<path d="M311,114 C325,115 345,122 360,129 S372,136 378,139" fill="none" stroke="#111" stroke-width="1.32" stroke-linejoin="round" stroke-linecap="round"/>
<polygon points="389,147 373.2,139.5 376.8,134.5" fill="#111"/>
<path d="M516,60 L460,72" fill="none" stroke="#111" stroke-width="1.32" stroke-linejoin="round" stroke-linecap="round"/>
<polygon points="444,76 463.2,68.0 464.8,74.0" fill="#111"/>
<path d="M519,96 L458,106" fill="none" stroke="#111" stroke-width="1.32" stroke-linejoin="round" stroke-linecap="round"/>
<polygon points="442,109.5 461.3,102.0 462.7,108.0" fill="#111"/>
<path d="M519,172 L472,167" fill="none" stroke="#111" stroke-width="1.32" stroke-linejoin="round" stroke-linecap="round"/>
<polygon points="456,163.5 475.4,162.9 474.6,169.1" fill="#111"/>
<path d="M519,239.5 C500,236 480,230 462,225" fill="none" stroke="#111" stroke-width="1.32" stroke-linejoin="round" stroke-linecap="round"/>
<polygon points="445.5,220 465.8,222.5 464.2,228.5" fill="#111"/>
<path d="M314,197 C330,198 340,202 352,207" fill="none" stroke="#111" stroke-width="1.32" stroke-linejoin="round" stroke-linecap="round"/>
<polygon points="367,211.5 348.0,208.4 350.0,202.6" fill="#111"/>
<path d="M230,282 C240,281 246,290 255,303" fill="none" stroke="#111" stroke-width="1.32" stroke-linejoin="round" stroke-linecap="round"/>
<polygon points="268,314.5 250.0,303.4 254.0,298.6" fill="#111"/>
<path d="M489,305 L425,315" fill="none" stroke="#111" stroke-width="1.32" stroke-linejoin="round" stroke-linecap="round"/>
<polygon points="407,317.5 428.5,310.9 429.5,317.1" fill="#111"/>
<path d="M577,338 C560,338 545,344 530,352 C505,366 480,380 460,395 L423,422" fill="none" stroke="#111" stroke-width="1.32" stroke-linejoin="round" stroke-linecap="round"/>
<polygon points="409,431 423.2,417.4 426.8,422.6" fill="#111"/>
<path d="M684,320.5 L655,328" fill="none" stroke="#111" stroke-width="1.32" stroke-linejoin="round" stroke-linecap="round"/>
<polygon points="640,332.5 659.2,324.0 660.8,330.0" fill="#111"/>
<path d="M664,374.5 C652,375 642,377 632,381 L596,398.5" fill="none" stroke="#111" stroke-width="1.32" stroke-linejoin="round" stroke-linecap="round"/>
<polygon points="576,406 594.9,395.6 597.1,401.4" fill="#111"/>
<path d="M91,352.7 C105,353 118,356 150,365 L185,376" fill="none" stroke="#111" stroke-width="1.32" stroke-linejoin="round" stroke-linecap="round"/>
<polygon points="199,381.5 179.0,377.9 181.0,372.1" fill="#111"/>
<path d="M263,840 C280,843 290,847 300,851" fill="none" stroke="#111" stroke-width="1.32" stroke-linejoin="round" stroke-linecap="round"/>
<polygon points="318,856.5 296.1,853.0 297.9,847.0" fill="#111"/>
</svg></body></html>
